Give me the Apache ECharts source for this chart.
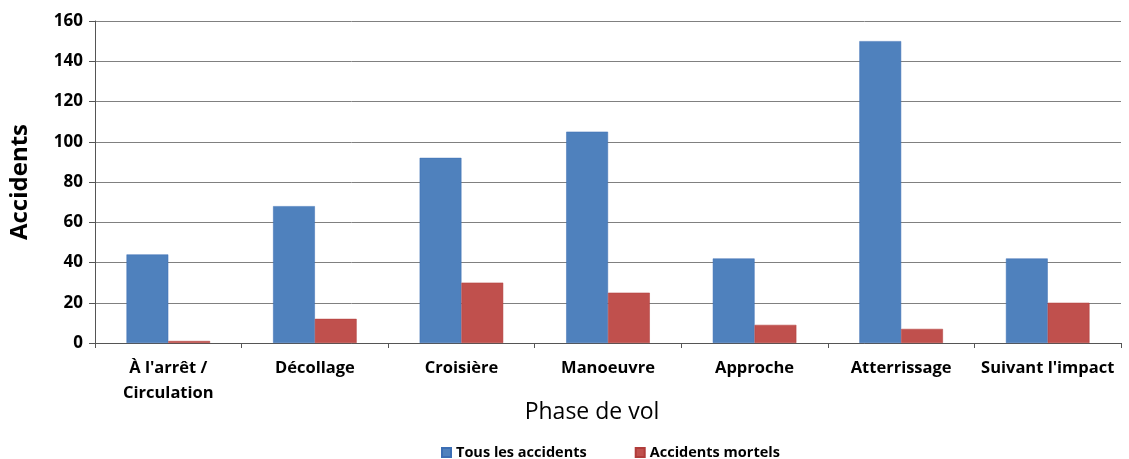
<!DOCTYPE html>
<html>
<head>
<meta charset="utf-8">
<script src="https://cdn.jsdelivr.net/npm/echarts@6/dist/echarts.min.js"></script>
<style>
  html, body { margin: 0; padding: 0; background: #fff; }
  #chart { width: 1129px; height: 459px; }
</style>
</head>
<body>
<div id="chart"></div>
<script>
const categories = ["À l'arrêt /\nCirculation", 'Décollage', 'Croisière', 'Manoeuvre', 'Approche', 'Atterrissage', "Suivant l'impact"]
const tousAccidents = [44, 68, 92, 105, 42, 150, 42]
const accidentsMortels = [1, 12, 30, 25, 9, 7, 20]

const FONT = '"Open Sans", "Noto Sans", sans-serif'

const chart = echarts.init(document.getElementById('chart'))

chart.setOption({
  animation: false,
  textStyle: { fontFamily: FONT },
  grid: { left: 93, right: 8, top: 21, bottom: 116 },
  legend: {
    top: 440,
    left: 436,
    itemWidth: 9,
    itemHeight: 9,
    itemGap: 48,
    icon: 'rect',
    textStyle: { fontFamily: FONT, fontWeight: 'bold', fontSize: 14.5, color: '#000' },
    data: ['Tous les accidents', 'Accidents mortels']
  },
  xAxis: {
    type: 'category',
    data: categories,
    name: 'Phase de vol',
    nameLocation: 'middle',
    nameGap: 58,
    nameMoveOverlap: false,
    nameTextStyle: { fontFamily: FONT, fontSize: 23, color: '#000', padding: [0, 32, 0, 0] },
    axisLine: { lineStyle: { color: '#555' } },
    axisTick: { show: true, length: 5, lineStyle: { color: '#555' } },
    axisLabel: {
      interval: 0,
      margin: 13,
      fontFamily: FONT,
      fontWeight: 'bold',
      fontSize: 16.5,
      lineHeight: 25,
      color: '#000'
    }
  },
  yAxis: {
    type: 'value',
    min: 0,
    max: 160,
    interval: 20,
    name: 'Accidents',
    nameLocation: 'middle',
    nameGap: 63,
    nameTextStyle: { fontFamily: FONT, fontWeight: 'bold', fontSize: 24, color: '#000' },
    axisLine: { show: true, lineStyle: { color: '#555' } },
    axisTick: { show: true, length: 6, lineStyle: { color: '#555' } },
    axisLabel: { fontFamily: FONT, fontWeight: 'bold', fontSize: 17, color: '#000', margin: 12 },
    splitLine: { lineStyle: { color: '#808080' } }
  },
  series: [
    {
      name: 'Tous les accidents',
      type: 'bar',
      data: tousAccidents,
      barGap: '0%',
      barCategoryGap: '43%',
      itemStyle: { color: '#4f81bd', borderColor: '#3c6eb4', borderWidth: 0.5 }
    },
    {
      name: 'Accidents mortels',
      type: 'bar',
      data: accidentsMortels,
      itemStyle: { color: '#c0504d', borderColor: '#b03c3a', borderWidth: 0.5 }
    }
  ]
})
</script>
</body>
</html>
